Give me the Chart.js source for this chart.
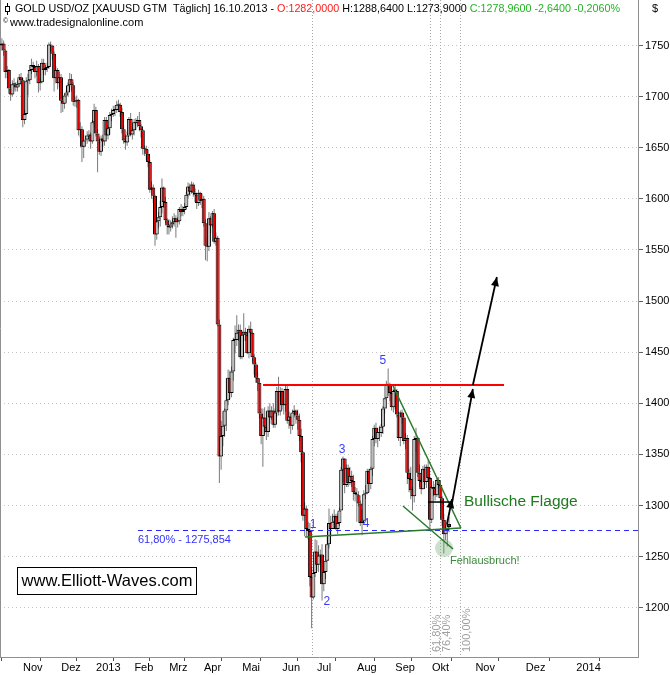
<!DOCTYPE html>
<html>
<head>
<meta charset="utf-8">
<script src="https://cdn.jsdelivr.net/npm/chart.js@4.4.1/dist/chart.umd.min.js"></script>
<style>
  html, body { margin: 0; padding: 0; background: #fff; }
  #wrap { width: 670px; height: 675px; }
</style>
</head>
<body>
<div id="wrap"><canvas id="goldChart" width="670" height="675"></canvas></div>
<script>
// Daily bars, 17.10.2012 - 16.10.2013 (one line per month)
const opens = [
  1750, 1752, 1745, 1724, 1726, 1708, 1702, 1712, 1712, 1709, 1712,
  1719, 1716, 1677, 1683, 1715, 1716, 1726, 1731, 1729, 1724, 1730, 1713, 1714, 1733, 1726, 1728, 1729, 1751, 1750, 1742, 1718, 1726,
  1713, 1719, 1696, 1693, 1701, 1704, 1711, 1717, 1711, 1695, 1696, 1697, 1667, 1668, 1651, 1657, 1658, 1662, 1663, 1656,
  1675, 1687, 1664, 1656, 1646, 1659, 1656, 1677, 1662, 1669, 1682, 1683, 1687, 1687, 1692, 1692, 1685, 1668, 1657, 1655, 1662, 1678,
  1663, 1667, 1675, 1674, 1677, 1671, 1667, 1649, 1649, 1644, 1636, 1609, 1611, 1603, 1565, 1578, 1582, 1592, 1611, 1597,
  1579, 1574, 1572, 1575, 1577, 1581, 1577, 1578, 1590, 1587, 1589, 1592, 1604, 1612, 1607, 1614, 1606, 1604, 1596, 1606,
  1598, 1600, 1576, 1554, 1553, 1581, 1574, 1586, 1558, 1562, 1477, 1348, 1368, 1378, 1393, 1403, 1425, 1410, 1431, 1462, 1462, 1469,
  1472, 1445, 1467, 1470, 1467, 1449, 1473, 1469, 1445, 1438, 1425, 1420, 1390, 1368, 1386, 1377, 1372, 1393, 1386, 1393, 1379, 1391, 1412,
  1392, 1412, 1398, 1398, 1414, 1383, 1387, 1378, 1391, 1393, 1388, 1384, 1368, 1352, 1290, 1297, 1277, 1275, 1230, 1210,
  1234, 1255, 1242, 1251, 1252, 1223, 1235, 1246, 1262, 1283, 1277, 1284, 1290, 1277, 1283, 1295, 1335, 1346, 1320, 1337, 1322, 1329, 1324,
  1313, 1311, 1310, 1302, 1283, 1285, 1311, 1312, 1334, 1321, 1336, 1365, 1376, 1365, 1372, 1371, 1377, 1395, 1405, 1419, 1418, 1410,
  1396, 1412, 1412, 1389, 1366, 1391, 1386, 1363, 1366, 1332, 1326, 1315, 1309, 1365, 1366, 1332, 1324, 1316, 1336, 1323, 1338,
  1327, 1286, 1318, 1316, 1310, 1325, 1320, 1307, 1286, 1272, 1276, 1282
];
const highs = [
  1757, 1755, 1746, 1730, 1727, 1712, 1716, 1718, 1714, 1716, 1722,
  1723, 1718, 1687, 1719, 1722, 1731, 1737, 1734, 1729, 1735, 1732, 1718, 1737, 1737, 1731, 1733, 1753, 1754, 1750, 1744, 1730, 1728,
  1724, 1722, 1700, 1703, 1706, 1714, 1723, 1722, 1714, 1700, 1701, 1698, 1675, 1671, 1663, 1662, 1666, 1667, 1665, 1677,
  1693, 1690, 1668, 1661, 1662, 1663, 1680, 1680, 1672, 1685, 1688, 1691, 1691, 1696, 1697, 1694, 1689, 1672, 1663, 1666, 1680, 1684,
  1670, 1678, 1679, 1681, 1685, 1673, 1668, 1652, 1652, 1648, 1638, 1617, 1614, 1604, 1581, 1587, 1598, 1620, 1612, 1602,
  1581, 1580, 1579, 1583, 1586, 1584, 1582, 1592, 1595, 1593, 1596, 1607, 1616, 1615, 1617, 1616, 1610, 1606, 1609, 1607,
  1605, 1603, 1580, 1562, 1587, 1583, 1588, 1590, 1567, 1564, 1482, 1383, 1392, 1395, 1424, 1433, 1432, 1436, 1464, 1476, 1486, 1477,
  1477, 1471, 1488, 1474, 1470, 1476, 1480, 1470, 1448, 1440, 1430, 1424, 1395, 1395, 1396, 1392, 1397, 1400, 1397, 1400, 1395, 1416, 1426,
  1416, 1415, 1405, 1418, 1417, 1392, 1390, 1394, 1398, 1394, 1394, 1390, 1375, 1353, 1303, 1300, 1284, 1283, 1240, 1238,
  1267, 1266, 1261, 1257, 1262, 1242, 1262, 1270, 1297, 1290, 1292, 1296, 1292, 1293, 1298, 1338, 1348, 1346, 1340, 1340, 1338, 1334, 1330,
  1318, 1317, 1314, 1305, 1296, 1315, 1320, 1336, 1336, 1338, 1368, 1379, 1381, 1376, 1378, 1380, 1397, 1405, 1422, 1434, 1420, 1414,
  1414, 1418, 1414, 1392, 1393, 1394, 1388, 1371, 1369, 1336, 1338, 1318, 1368, 1376, 1367, 1340, 1327, 1339, 1340, 1340, 1344,
  1328, 1320, 1324, 1321, 1327, 1328, 1324, 1309, 1292, 1280, 1283, 1288.64
];
const lows = [
  1745, 1740, 1718, 1718, 1703, 1696, 1700, 1705, 1705, 1705, 1710,
  1711, 1670, 1673, 1682, 1701, 1712, 1722, 1724, 1718, 1720, 1704, 1706, 1713, 1721, 1721, 1724, 1727, 1744, 1736, 1705, 1713, 1707,
  1709, 1684, 1685, 1688, 1694, 1700, 1707, 1705, 1691, 1690, 1689, 1662, 1660, 1636, 1640, 1651, 1654, 1656, 1649, 1654,
  1670, 1661, 1626, 1643, 1642, 1651, 1652, 1656, 1658, 1663, 1676, 1680, 1681, 1684, 1685, 1680, 1664, 1654, 1648, 1652, 1661, 1661,
  1658, 1662, 1667, 1670, 1666, 1660, 1643, 1642, 1638, 1631, 1606, 1600, 1596, 1554, 1560, 1571, 1573, 1586, 1591, 1576,
  1565, 1565, 1568, 1571, 1573, 1562, 1572, 1575, 1583, 1583, 1585, 1590, 1601, 1603, 1605, 1602, 1597, 1590, 1593, 1594,
  1591, 1573, 1540, 1539, 1549, 1566, 1572, 1556, 1554, 1475, 1322, 1335, 1358, 1367, 1373, 1398, 1404, 1406, 1422, 1449, 1456, 1461,
  1443, 1443, 1461, 1461, 1448, 1444, 1465, 1440, 1428, 1420, 1412, 1385, 1360, 1338, 1370, 1364, 1367, 1380, 1384, 1376, 1376, 1387, 1388,
  1388, 1394, 1389, 1392, 1380, 1375, 1370, 1374, 1386, 1380, 1374, 1363, 1342, 1285, 1270, 1270, 1267, 1221, 1180, 1208,
  1230, 1236, 1235, 1244, 1207, 1216, 1228, 1246, 1258, 1270, 1277, 1278, 1276, 1272, 1280, 1295, 1323, 1312, 1318, 1318, 1320, 1318, 1305,
  1304, 1284, 1299, 1280, 1271, 1285, 1306, 1311, 1313, 1316, 1329, 1358, 1361, 1357, 1363, 1367, 1370, 1390, 1395, 1407, 1402, 1393,
  1391, 1394, 1386, 1363, 1358, 1380, 1360, 1355, 1321, 1313, 1306, 1295, 1303, 1352, 1328, 1318, 1311, 1316, 1320, 1317, 1323,
  1278, 1283, 1309, 1305, 1308, 1317, 1302, 1280, 1253, 1266, 1260, 1273.9
];
const closes = [
  1752, 1745, 1724, 1726, 1708, 1702, 1712, 1712, 1709, 1712, 1719,
  1716, 1677, 1683, 1715, 1716, 1726, 1731, 1729, 1724, 1730, 1713, 1714, 1733, 1726, 1728, 1729, 1751, 1750, 1742, 1718, 1726, 1713,
  1719, 1696, 1693, 1701, 1704, 1711, 1717, 1711, 1695, 1696, 1697, 1667, 1668, 1651, 1657, 1658, 1662, 1663, 1656, 1675,
  1687, 1664, 1656, 1646, 1659, 1656, 1677, 1662, 1669, 1682, 1683, 1687, 1687, 1692, 1692, 1685, 1668, 1657, 1655, 1662, 1678, 1663,
  1667, 1675, 1674, 1677, 1671, 1667, 1649, 1649, 1644, 1636, 1609, 1611, 1603, 1565, 1578, 1582, 1592, 1611, 1597, 1579,
  1574, 1572, 1575, 1577, 1581, 1577, 1578, 1590, 1587, 1589, 1592, 1604, 1612, 1607, 1614, 1606, 1604, 1596, 1606, 1598,
  1600, 1576, 1554, 1553, 1581, 1574, 1586, 1558, 1562, 1477, 1348, 1368, 1378, 1393, 1403, 1425, 1410, 1431, 1462, 1462, 1469, 1472,
  1445, 1467, 1470, 1467, 1449, 1473, 1469, 1445, 1438, 1425, 1420, 1390, 1368, 1386, 1377, 1372, 1393, 1386, 1393, 1379, 1391, 1412, 1392,
  1412, 1398, 1398, 1414, 1383, 1387, 1378, 1391, 1393, 1388, 1384, 1368, 1352, 1290, 1297, 1277, 1275, 1230, 1210, 1234,
  1255, 1242, 1251, 1252, 1223, 1235, 1246, 1262, 1283, 1277, 1284, 1290, 1277, 1283, 1295, 1335, 1346, 1320, 1337, 1322, 1329, 1324, 1313,
  1311, 1310, 1302, 1283, 1285, 1311, 1312, 1334, 1321, 1336, 1365, 1376, 1365, 1372, 1371, 1377, 1395, 1405, 1419, 1418, 1410, 1396,
  1412, 1412, 1389, 1366, 1391, 1386, 1363, 1366, 1332, 1326, 1315, 1309, 1365, 1366, 1332, 1324, 1316, 1336, 1323, 1338, 1327,
  1286, 1318, 1316, 1310, 1325, 1320, 1307, 1286, 1272, 1276, 1281.6, 1278.96
];

// x axis: bar number of each month start (future months on calendar days)
const monthBars = [11, 33, 53, 75, 95, 115, 137, 160, 180, 203, 225, 246, 271, 300, 329];
const monthLabels = ['Nov', 'Dez', '2013', 'Feb', 'Mrz', 'Apr', 'Mai', 'Jun', 'Jul', 'Aug', 'Sep', 'Okt', 'Nov', 'Dez', '2014'];
const priceTicks = [1200, 1250, 1300, 1350, 1400, 1450, 1500, 1550, 1600, 1650, 1700, 1750];

// Drawings: [fromBar, fromPrice, toBar, toPrice]
const fibLevel = 1275.854;
const fibLevelStart = 78.2;
const resistLine = [150.1, 1418, 288.6, 1418];
const flagSupport = [174.2, 1269.2, 263.8, 1278.0];
const flagUpper = [224.8, 1416.9, 263.8, 1278.0];
const flagLower = [230.5, 1299.5, 259.3, 1257.4];
const flagTop = [244.9, 1303.4, 258.7, 1303.4];
const arrows = [
  [255.8, 1281.9, 258.7, 1306.3],
  [258.7, 1302.4, 270.7, 1414.0],
  [270.7, 1417.9, 284.5, 1523.5]
];
const waveNames = ['1', '2', '3', '4', '5'];
const waveBars = [178.8, 186.8, 195.5, 209.3, 219.0];
const wavePrices = [1281, 1205.6, 1354.3, 1281.9, 1441.4];
const fibTimeBars = [178.2, 246.0, 251.8, 263.3];
const fibTimeLabels = ['', '61,80%', '76,40%', '100,00%'];
const fakeoutBar = 254.1, fakeoutPrice = 1258.4;

const FONT = '"Liberation Sans", Arial, sans-serif';

const bars = closes.map((c, i) => i);
const wickData = bars.map(i => ({ x: i, y: [lows[i], highs[i]] }));
const bodyData = bars.map(i => ({ x: i, y: [Math.min(opens[i], closes[i]), Math.max(opens[i], closes[i])] }));
const bodyColors = bars.map(i => closes[i] >= opens[i] ? '#bcbcbc' : '#e00000');

function arrowLine(ctx, x1, y1, x2, y2) {
  ctx.beginPath();
  ctx.moveTo(x1, y1);
  ctx.lineTo(x2, y2);
  ctx.stroke();
  const a = Math.atan2(y2 - y1, x2 - x1), len = 9, w = 4;
  ctx.beginPath();
  ctx.moveTo(x2, y2);
  ctx.lineTo(x2 - len * Math.cos(a) + w * Math.sin(a), y2 - len * Math.sin(a) - w * Math.cos(a));
  ctx.lineTo(x2 - len * Math.cos(a) - w * Math.sin(a), y2 - len * Math.sin(a) + w * Math.cos(a));
  ctx.closePath();
  ctx.fill();
}

const drawings = {
  id: 'drawings',
  beforeDatasetsDraw(chart) {
    const { ctx, chartArea: a, scales: { x } } = chart;
    ctx.save();
    // plot frame, left side
    ctx.strokeStyle = '#909090';
    ctx.lineWidth = 1;
    ctx.beginPath();
    ctx.moveTo(a.left + 0.5, a.top);
    ctx.lineTo(a.left + 0.5, a.bottom);
    ctx.stroke();
    // Fibonacci time lines
    ctx.strokeStyle = '#a8a8a8';
    ctx.setLineDash([1, 2]);
    fibTimeBars.forEach(b => {
      const px = Math.round(x.getPixelForValue(b)) + 0.5;
      ctx.beginPath();
      ctx.moveTo(px, a.top);
      ctx.lineTo(px, a.bottom);
      ctx.stroke();
    });
    ctx.setLineDash([]);
    ctx.fillStyle = '#a0a0a0';
    ctx.font = '11px ' + FONT;
    ctx.textAlign = 'left';
    ctx.textBaseline = 'middle';
    fibTimeBars.forEach((b, i) => {
      if (!fibTimeLabels[i]) return;
      ctx.save();
      ctx.translate(x.getPixelForValue(b) + 7, a.bottom - 5);
      ctx.rotate(-Math.PI / 2);
      ctx.fillText(fibTimeLabels[i], 0, 0);
      ctx.restore();
    });
    ctx.restore();
  },
  afterDatasetsDraw(chart) {
    const { ctx, chartArea: a, scales: { x, y } } = chart;
    const X = v => x.getPixelForValue(v), Y = v => y.getPixelForValue(v);
    ctx.save();

    // 61.8% retracement
    const fy = Math.round(Y(fibLevel)) + 0.5;
    ctx.strokeStyle = '#2828ff';
    ctx.lineWidth = 1;
    ctx.setLineDash([5, 4]);
    ctx.beginPath();
    ctx.moveTo(X(fibLevelStart), fy);
    ctx.lineTo(a.right, fy);
    ctx.stroke();
    ctx.setLineDash([]);
    ctx.fillStyle = '#3030ff';
    ctx.font = '11px ' + FONT;
    ctx.textAlign = 'left';
    ctx.textBaseline = 'middle';
    ctx.fillText('61,80% - 1275,854', X(fibLevelStart), fy + 9);

    // resistance
    ctx.strokeStyle = '#ff0000';
    ctx.lineWidth = 2;
    ctx.beginPath();
    ctx.moveTo(X(resistLine[0]), Y(resistLine[1]));
    ctx.lineTo(X(resistLine[2]), Y(resistLine[3]));
    ctx.stroke();

    // fakeout marker
    ctx.fillStyle = 'rgba(110, 170, 110, 0.35)';
    ctx.beginPath();
    ctx.arc(X(fakeoutBar), Y(fakeoutPrice), 9, 0, Math.PI * 2);
    ctx.fill();

    // flag
    ctx.strokeStyle = '#2a7a2a';
    ctx.lineWidth = 1.5;
    [flagSupport, flagUpper, flagLower].forEach(l => {
      ctx.beginPath();
      ctx.moveTo(X(l[0]), Y(l[1]));
      ctx.lineTo(X(l[2]), Y(l[3]));
      ctx.stroke();
    });
    ctx.strokeStyle = '#000';
    ctx.beginPath();
    ctx.moveTo(X(flagTop[0]), Y(flagTop[1]));
    ctx.lineTo(X(flagTop[2]), Y(flagTop[3]));
    ctx.stroke();

    // projection arrows
    ctx.fillStyle = '#000';
    ctx.lineWidth = 1.8;
    arrows.forEach(l => arrowLine(ctx, X(l[0]), Y(l[1]), X(l[2]), Y(l[3])));

    // wave count
    ctx.fillStyle = '#3a3aff';
    ctx.font = '12px ' + FONT;
    ctx.textAlign = 'center';
    waveNames.forEach((n, i) => ctx.fillText(n, X(waveBars[i]), Y(wavePrices[i])));

    // texts
    ctx.textAlign = 'left';
    ctx.fillStyle = '#1f7a1f';
    ctx.font = '15.5px ' + FONT;
    ctx.fillText('Bullische Flagge', X(265.6), Y(1303.4));
    ctx.fillStyle = '#3a8a3a';
    ctx.font = '11px ' + FONT;
    ctx.fillText('Fehlausbruch!', X(257.5), Y(1245.7));

    // site box
    const bx = a.left + 17, by = a.bottom - 90;
    ctx.fillStyle = '#fff';
    ctx.fillRect(bx, by, 179, 27);
    ctx.strokeStyle = '#000';
    ctx.lineWidth = 1;
    ctx.strokeRect(bx + 0.5, by + 0.5, 179, 27);
    ctx.fillStyle = '#000';
    ctx.font = '16.5px ' + FONT;
    ctx.textAlign = 'center';
    ctx.fillText('www.Elliott-Waves.com', bx + 90, by + 14);
    ctx.restore();
  },
  afterDraw(chart) {
    const { ctx } = chart;
    ctx.save();
    // small candle icon
    ctx.strokeStyle = '#000';
    ctx.lineWidth = 1;
    ctx.beginPath();
    ctx.moveTo(7.5, 3);
    ctx.lineTo(7.5, 15);
    ctx.stroke();
    ctx.fillStyle = '#fff';
    ctx.fillRect(5, 6, 5, 6);
    ctx.strokeRect(5.5, 6.5, 4, 5);

    const parts = [
      ['GOLD USD/OZ [XAUUSD GTM  Täglich] 16.10.2013 - ', '#000'],
      ['O:1282,0000', '#ff1a1a'],
      [' H:1288,6400 L:1273,9000 ', '#000'],
      ['C:1278,9600 -2,6400 -0,2060%', '#22b422']
    ];
    ctx.font = '11px ' + FONT;
    ctx.textBaseline = 'middle';
    ctx.textAlign = 'left';
    const total = parts.reduce((s, p) => s + ctx.measureText(p[0]).width, 0);
    const k = Math.min(1, 605 / total);
    ctx.save();
    ctx.translate(15, 9);
    ctx.scale(k, 1);
    let cx = 0;
    parts.forEach(p => {
      ctx.fillStyle = p[1];
      ctx.fillText(p[0], cx, 0);
      cx += ctx.measureText(p[0]).width;
    });
    ctx.restore();
    ctx.fillStyle = '#000';
    ctx.font = '7px ' + FONT;
    ctx.fillText('©', 3, 21);
    ctx.font = '11px ' + FONT;
    ctx.fillText('www.tradesignalonline.com', 10, 23);
    ctx.fillText('$', 652, 9);
    ctx.restore();
  }
};

new Chart(document.getElementById('goldChart'), {
  type: 'bar',
  data: {
    datasets: [
      {
        data: wickData,
        backgroundColor: '#7a7a7a',
        barThickness: 1,
        inflateAmount: 0,
        grouped: false,
        order: 2
      },
      {
        data: bodyData,
        backgroundColor: bodyColors,
        borderColor: '#000',
        borderWidth: 1,
        borderSkipped: false,
        barThickness: 4,
        inflateAmount: 0,
        minBarLength: 1,
        grouped: false,
        order: 1
      }
    ]
  },
  options: {
    responsive: false,
    animation: false,
    devicePixelRatio: 1,
    layout: { padding: 0 },
    plugins: {
      legend: { display: false },
      tooltip: { enabled: false }
    },
    scales: {
      x: {
        type: 'linear',
        min: -1.09,
        max: 365.6,
        offset: false,
        afterBuildTicks: s => { s.ticks = monthBars.map(v => ({ value: v })); },
        afterFit: s => { s.height = 18; s.paddingLeft = 0; s.paddingRight = 0; },
        grid: { drawOnChartArea: false, drawTicks: true, tickLength: 4, tickColor: '#505050' },
        border: { display: true, color: '#909090' },
        ticks: {
          align: 'start',
          labelOffset: 2,
          padding: 0,
          maxRotation: 0,
          autoSkip: false,
          color: '#000',
          font: { family: FONT, size: 11 },
          callback: (v, i) => monthLabels[i]
        }
      },
      y: {
        position: 'right',
        min: 1151.8,
        max: 1794.5,
        afterBuildTicks: s => { s.ticks = priceTicks.map(v => ({ value: v })); },
        afterFit: s => { s.width = 32; s.paddingTop = 0; s.paddingBottom = 0; },
        grid: { color: '#c4c4c4', tickColor: '#606060', tickLength: 5 },
        border: { display: true, color: '#909090', dash: [1, 3] },
        ticks: {
          color: '#000',
          padding: 2,
          font: { family: FONT, size: 11 },
          callback: v => String(v)
        }
      }
    }
  },
  plugins: [drawings]
});
</script>
</body>
</html>
